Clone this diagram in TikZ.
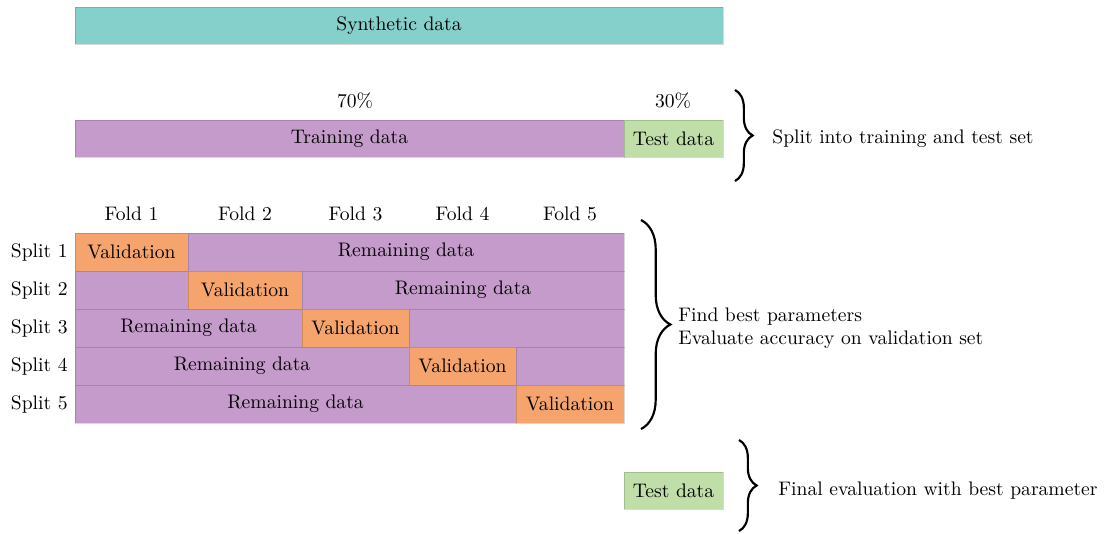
\documentclass[tikz,border=0pt]{standalone}
\usetikzlibrary{decorations.pathreplacing}
\definecolor{synth}{HTML}{86D0CB}
\definecolor{train}{HTML}{C49BCA}
\definecolor{testc}{HTML}{C0DEA8}
\definecolor{valid}{HTML}{F5A46E}
\begin{document}
\begin{tikzpicture}[x=0.51pt,y=-0.51pt,
  box/.style 2 args={inner sep=0pt, draw=black, draw opacity=0.15, line width=0.5pt, text=black,
     minimum width=#1*0.51pt, minimum height=#2*0.51pt},
  lab/.style={inner sep=0pt, text=black},
  bracestyle/.style={decorate, decoration={brace, amplitude=#1}, line width=1.1pt}]
\useasboundingbox (0,0) rectangle (1107,533);
% synthetic
\node[box={648}{37}, fill=synth] (syn) at (399,25.5) {Synthetic data};
% training / test
\node[box={549}{37}, fill=train] (tr) at (349.5,138.5) {Training data};
\node[box={99}{37}, fill=testc] (te) at (673.5,138.5) {Test data};
\node[lab] (p70) at (355,101) {70\%};
\node[lab] (p30) at (673,101) {30\%};
\coordinate (b1t) at (735,90);
\coordinate (b1b) at (735,181);
\draw[bracestyle=9pt] (b1t) -- (b1b);
\node[lab, anchor=west] (t1) at (772,139) {Split into training and test set};
% folds
\node[lab] (f1) at (131.5,214) {Fold 1};
\node[lab] (f2) at (245,214) {Fold 2};
\node[lab] (f3) at (355.5,214) {Fold 3};
\node[lab] (f4) at (462.5,214) {Fold 4};
\node[lab] (f5) at (570,214) {Fold 5};
% split labels
\node[lab, anchor=east] (s1) at (68,252) {Split 1};
\node[lab, anchor=east] (s2) at (68,290) {Split 2};
\node[lab, anchor=east] (s3) at (68,328) {Split 3};
\node[lab, anchor=east] (s4) at (68,366) {Split 4};
\node[lab, anchor=east] (s5) at (68,404) {Split 5};
% split 1
\node[box={113}{38}, fill=valid] (v1) at (131.5,252) {Validation};
\node[box={436}{38}, fill=train] (r1) at (406,252) {Remaining data};
% split 2
\node[box={113}{38}, fill=train] (r2a) at (131.5,290) {};
\node[box={114}{38}, fill=valid] (v2) at (245,290) {Validation};
\node[box={322}{38}, fill=train] (r2) at (463,290) {Remaining data};
% split 3
\node[box={227}{38}, fill=train] (r3) at (188.5,328) {Remaining data};
\node[box={107}{38}, fill=valid] (v3) at (355.5,328) {Validation};
\node[box={215}{38}, fill=train] (r3b) at (516.5,328) {};
% split 4
\node[box={334}{38}, fill=train] (r4) at (242,366) {Remaining data};
\node[box={107}{38}, fill=valid] (v4) at (462.5,366) {Validation};
\node[box={108}{38}, fill=train] (r4b) at (570,366) {};
% split 5
\node[box={441}{38}, fill=train] (r5) at (295.5,404) {Remaining data};
\node[box={108}{38}, fill=valid] (v5) at (570,404) {Validation};
\coordinate (b2t) at (641,220);
\coordinate (b2b) at (641,429);
\draw[bracestyle=15pt] (b2t) -- (b2b);
\node[lab, anchor=west, align=left] (t2) at (678,328) {Find best parameters\\Evaluate accuracy on validation set};
% final
\node[box={99}{37}, fill=testc] (te2) at (673.5,490.5) {Test data};
\coordinate (b3t) at (739,440);
\coordinate (b3b) at (739,531);
\draw[bracestyle=9pt] (b3t) -- (b3b);
\node[lab, anchor=west] (t3) at (778,491) {Final evaluation with best parameter};
\end{tikzpicture}
\end{document}
